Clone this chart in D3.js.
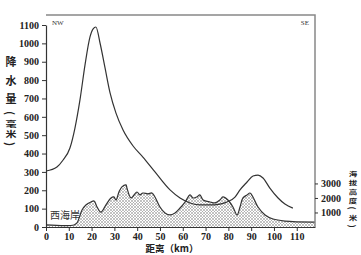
<!DOCTYPE html>
<html>
  <head>
    <meta charset="utf-8">
    <title>降水量与海拔剖面</title>
    <style>
      body { margin: 0; background: #fff; }
      text { font-family: "Liberation Serif", "Noto Sans CJK SC", serif; }
    </style>
  </head>
  <body>
    <script src="https://cdnjs.cloudflare.com/ajax/libs/d3/7.8.5/d3.min.js"></script>
    <script>
      // distance (km) and precipitation (mm)
      let rainKm = [0, 4.8, 7.5, 10.5, 12.7, 14.9, 17.1, 19.3, 20.6, 21.9, 23.7, 25.9, 28.1, 30.7, 33.8, 38.2, 42.5, 47.8, 54.4, 58.8, 63.2, 67.5, 71.9, 76.3, 79.4, 82.9, 85.1, 88.2, 90.8, 93, 95.2, 98.2, 101.8, 104.8, 108.3];
      let rainMm = [305, 327, 365, 430, 539, 692, 882, 1035, 1078, 1089, 1002, 866, 730, 620, 528, 441, 381, 300, 202, 158, 131, 120, 120, 125, 136, 163, 202, 245, 278, 283, 267, 212, 158, 125, 103];

      // distance (km) and elevation (m)
      let elevKm = [0, 12.3, 13.6, 15.8, 17.5, 19.7, 21.1, 22.4, 24.1, 26.3, 28.5, 29.8, 30.7, 32, 33.3, 35.1, 35.5, 37.3, 39.9, 41.2, 42.5, 44.7, 46.5, 47.8, 50, 52.2, 54.4, 56.6, 58.8, 61, 63.2, 64.5, 66.2, 67.5, 68.9, 72, 74.1, 76.3, 77.6, 79.8, 82, 83.8, 85.1, 86.4, 88.2, 89.5, 90.8, 93, 96.1, 99.6, 104.8, 118];
      let elevM = [140, 140, 280, 1170, 1520, 1720, 1790, 1380, 1030, 1520, 2000, 2070, 1860, 2410, 2760, 2900, 2690, 2000, 2410, 2210, 2340, 2280, 2340, 2070, 1380, 970, 830, 970, 1310, 1720, 2210, 2000, 2070, 2210, 1860, 1720, 1660, 1860, 2070, 1860, 1380, 830, 1380, 2000, 2210, 2340, 2070, 1380, 830, 550, 410, 340];

      let xTicks = [0, 10, 20, 30, 40, 50, 60, 70, 80, 90, 100, 110];
      let leftTicks = [0, 100, 200, 300, 400, 500, 600, 700, 800, 900, 1000, 1100];
      let rightTicks = [1000, 2000, 3000];

      let canvas = d3.select('body')
                     .append('svg')
                     .attr('width', 361)
                     .attr('height', 255);

      let xScale = d3.scaleLinear().domain([0, 118]).range([46, 315]);
      let yRain = d3.scaleLinear().domain([0, 1100]).range([227, 25]);
      let yElev = d3.scaleLinear().domain([0, 14600]).range([227, 15]);

      // crosshatch fill for terrain
      let pat = canvas.append('defs').append('pattern')
                      .attr('id', 'hatch')
                      .attr('width', 3)
                      .attr('height', 3)
                      .attr('patternUnits', 'userSpaceOnUse');
      pat.append('rect').attr('width', 3).attr('height', 3).attr('fill', '#fff');
      pat.append('path').attr('d', 'M0,0L3,3M3,0L0,3')
         .attr('stroke', '#9a9a9a').attr('stroke-width', 0.6);

      let elevData = elevKm.map((k, i) => [k, elevM[i]]);
      let rainData = rainKm.map((k, i) => [k, rainMm[i]]);

      let area = d3.area()
                   .x((d) => xScale(d[0]))
                   .y0(yElev(0))
                   .y1((d) => yElev(d[1]))
                   .curve(d3.curveCatmullRom);
      canvas.append('path')
            .attr('d', area(elevData))
            .attr('fill', 'url(#hatch)');

      let elevLine = d3.line()
                       .x((d) => xScale(d[0]))
                       .y((d) => yElev(d[1]))
                       .curve(d3.curveCatmullRom);
      canvas.append('path')
            .attr('d', elevLine(elevData))
            .attr('fill', 'none')
            .attr('stroke', '#333')
            .attr('stroke-width', 1.2);

      let rainLine = d3.line()
                       .x((d) => xScale(d[0]))
                       .y((d) => yRain(d[1]))
                       .curve(d3.curveMonotoneX);
      canvas.append('path')
            .attr('d', rainLine(rainData))
            .attr('fill', 'none')
            .attr('stroke', '#333')
            .attr('stroke-width', 1.2);

      // frame: top and right in gray
      canvas.append('path')
            .attr('d', 'M46,15H315V227')
            .attr('fill', 'none')
            .attr('stroke', '#888')
            .attr('stroke-width', 1.5);

      let fmt = d3.format('d');

      let leftAxis = canvas.append('g')
                           .attr('transform', 'translate(46,0)')
                           .call(d3.axisLeft(yRain).tickValues(leftTicks).tickFormat(fmt).tickSize(4).tickSizeOuter(0));
      leftAxis.selectAll('text').attr('font-size', 10).attr('font-weight', 'bold').attr('fill', '#222');

      let bottomAxis = canvas.append('g')
                             .attr('transform', 'translate(0,227)')
                             .call(d3.axisBottom(xScale).tickValues(xTicks).tickFormat(fmt).tickSize(4).tickPadding(2).tickSizeOuter(0));
      bottomAxis.selectAll('text').attr('font-size', 10).attr('font-weight', 'bold').attr('fill', '#222');

      let rightAxis = canvas.append('g')
                            .attr('transform', 'translate(315,0)')
                            .call(d3.axisRight(yElev).tickValues(rightTicks).tickFormat(fmt).tickSize(3).tickSizeOuter(0));
      rightAxis.select('.domain').remove();
      rightAxis.selectAll('text').attr('font-size', 10).attr('font-weight', 'bold').attr('fill', '#222');

      canvas.selectAll('.domain').attr('stroke', '#333').attr('stroke-width', 1.2);
      canvas.selectAll('.tick line').attr('stroke', '#333');

      // vertical titles: one glyph per text, brackets turned 90 degrees,
      // glyphs squeezed vertically like the original
      function verticalTitle(chars, ys, size, squeeze, x) {
        canvas.append('g')
              .selectAll('text')
              .data(chars)
              .enter()
                .append('text')
                .attr('transform', (d, i) => {
                  let t = 'translate(' + x + ',' + ys[i] + ')';
                  if (d === '(' || d === ')') return t + ' rotate(90)';
                  return t + ' scale(1,' + squeeze[i] + ')';
                })
                .attr('text-anchor', 'middle')
                .attr('dominant-baseline', 'central')
                .attr('font-size', size)
                .attr('font-weight', 'bold')
                .attr('fill', '#222')
                .style('font-family', '"Noto Sans CJK SC"')
                .text((d) => d);
      }

      verticalTitle(['降', '水', '量', '(', '毫', '米', ')'], [61, 80, 98, 113, 123.5, 134, 144], 11, [1, 1, 1, 1, 0.68, 0.68, 1], 11);
      verticalTitle(['海', '拔', '高', '度', '(', '米', ')'], [173, 182, 191, 200, 208, 217, 226], 8.5, [0.7, 0.7, 0.7, 0.7, 1, 0.7, 1], 353);

      canvas.append('text')
            .attr('x', 172)
            .attr('y', 252)
            .attr('text-anchor', 'middle')
            .attr('font-size', 9.5)
            .attr('font-weight', 'bold')
            .attr('fill', '#222')
            .style('font-family', '"Noto Sans CJK SC"')
            .text('距离（km）');

      canvas.append('text')
            .attr('x', 50)
            .attr('y', 219)
            .attr('font-size', 10)
            .attr('fill', '#333')
            .style('font-family', '"Noto Sans CJK SC"')
            .text('西海岸');

      canvas.append('text')
            .attr('x', 52)
            .attr('y', 25)
            .attr('font-size', 7)
            .attr('fill', '#333')
            .text('NW');

      canvas.append('text')
            .attr('x', 309)
            .attr('y', 25)
            .attr('text-anchor', 'end')
            .attr('font-size', 7)
            .attr('fill', '#333')
            .text('SE');
    </script>
  </body>
</html>
